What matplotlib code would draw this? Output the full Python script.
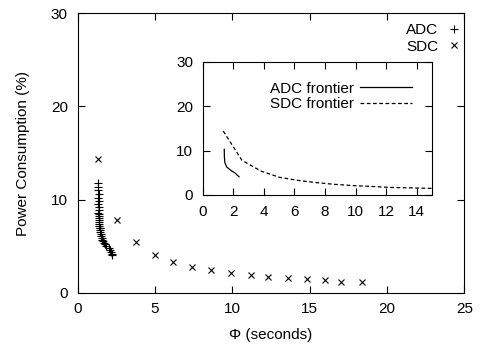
import matplotlib
matplotlib.use("Agg")
import matplotlib.pyplot as plt

plt.rcParams['font.family'] = ['Liberation Sans', 'DejaVu Sans']
plt.rcParams['font.size'] = 11

# ADC configurations
adc_x = [1.32, 1.35, 1.33, 1.36, 1.34, 1.37, 1.35, 1.38, 1.36, 1.34, 1.39, 1.37,
         1.40, 1.38, 1.41, 1.39, 1.42, 1.44, 1.43, 1.46, 1.48, 1.50, 1.53, 1.56,
         1.60, 1.65, 1.70, 1.78, 1.85, 2.05, 2.10, 2.15, 2.20, 2.25]
adc_y = [11.8, 11.4, 11.0, 10.6, 10.2, 9.8, 9.5, 9.2, 8.9, 8.6, 8.4, 8.2,
         8.0, 7.8, 7.6, 7.4, 7.2, 7.0, 6.9, 6.7, 6.5, 6.3, 6.1, 5.9,
         5.7, 5.5, 5.3, 5.2, 5.0, 4.8, 4.6, 4.4, 4.2, 4.0]

# SDC configurations
sdc_x = [1.34, 2.57, 3.8, 5.0, 6.2, 7.4, 8.6, 9.9, 11.2, 12.3, 13.6, 14.8, 16.0, 17.0, 18.4]
sdc_y = [14.4, 7.8, 5.4, 4.0, 3.3, 2.8, 2.4, 2.1, 1.9, 1.7, 1.6, 1.5, 1.4, 1.2, 1.2]

# frontiers (inset)
adc_fx = [1.41, 1.42, 1.45, 1.57, 1.75, 1.9, 2.1, 2.25, 2.38]
adc_fy = [10.3, 8.5, 7.3, 6.3, 5.8, 5.4, 5.0, 4.5, 4.1]
sdc_fx = sdc_x
sdc_fy = sdc_y

fig = plt.figure(figsize=(4.8, 3.45), dpi=100)
ax = fig.add_axes([0.1615, 0.1516, 0.806, 0.8098])

ax.plot(adc_x, adc_y, ls='none', marker='+', ms=6, mew=0.8, color='black', label='ADC')
ax.plot(sdc_x, sdc_y, ls='none', marker='x', ms=5, mew=0.8, color='black', label='SDC')
ax.set_xlim(0, 25)
ax.set_ylim(0, 30)
ax.set_xticks([0, 5, 10, 15, 20, 25])
ax.set_yticks([0, 10, 20, 30])
ax.tick_params(direction='in', top=True, right=True, length=5, width=0.8, pad=7)
ax.set_xlabel('Φ (seconds)', labelpad=8)
ax.set_ylabel('Power Consumption (%)', labelpad=15)
ax.legend(loc='upper right', bbox_to_anchor=(1.0, 0.975), markerfirst=False, frameon=False,
          handlelength=1.0, handletextpad=0.5, borderaxespad=0.0, borderpad=0.2,
          labelspacing=0.15)

ins = fig.add_axes([0.4223, 0.4348, 0.4777, 0.3864])
ins.plot(adc_fx, adc_fy, '-', color='black', lw=0.9, label='ADC frontier')
ins.plot(sdc_fx, sdc_fy, '--', color='black', lw=0.9, dashes=(3, 2), label='SDC frontier')
ins.set_xlim(0, 15)
ins.set_ylim(0, 30)
ins.set_xticks(range(0, 15, 2))
ins.set_yticks([0, 10, 20, 30])
ins.tick_params(direction='in', top=True, right=True, length=5, width=0.8, pad=7)
ins.legend(loc='upper right', markerfirst=False, frameon=False,
           handlelength=3.4, handletextpad=0.4, borderaxespad=0.9, labelspacing=0.1)

fig.savefig('out.png', dpi=100)
